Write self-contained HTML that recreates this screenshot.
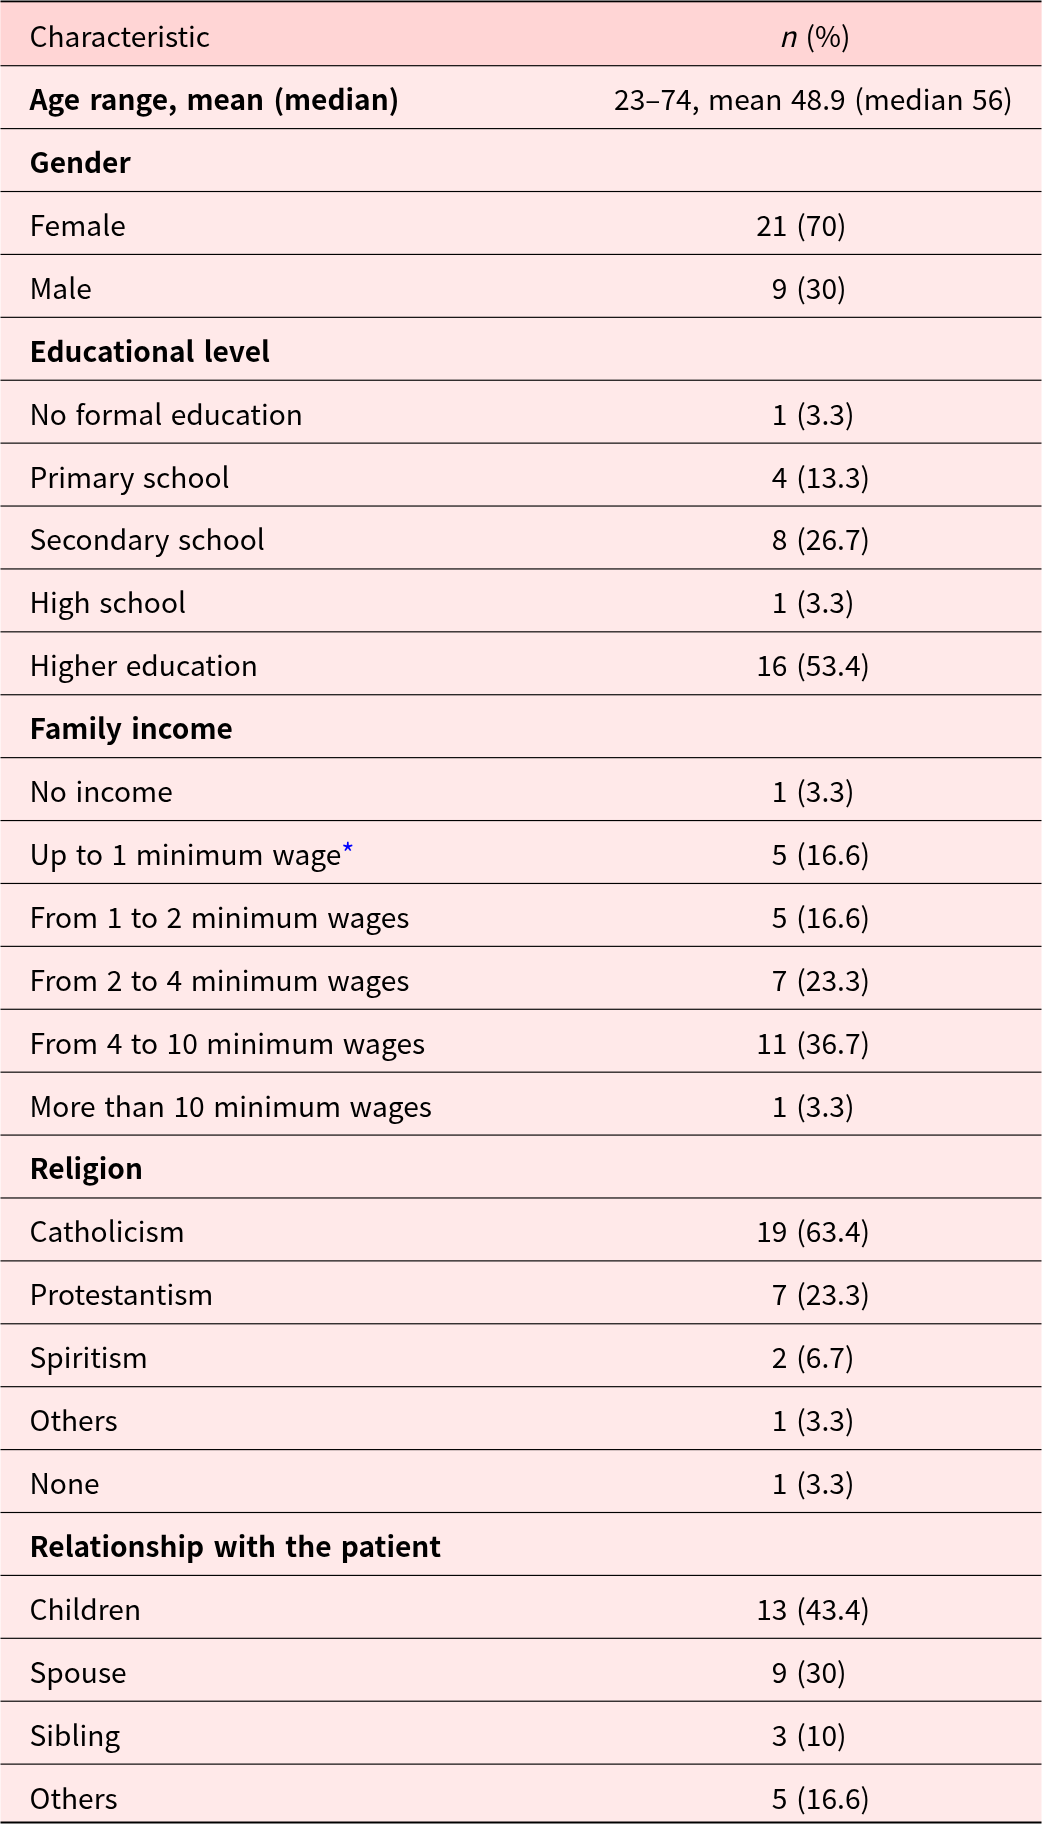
<!DOCTYPE html>
<html lang="en">
<head>
<meta charset="utf-8">
<title>Table 1</title>
<style>
html,body{margin:0;padding:0;}
body{width:1042px;height:1824px;background:#ffe9e9;overflow:hidden;position:relative;
 font-family:"Noto Sans CJK SC","Noto Sans CJK JP","Liberation Sans",sans-serif;font-size:28.17px;color:#000;word-spacing:2.2px;}
.bg{position:absolute;left:0;top:0;display:block;}
.t{position:absolute;left:0;top:0;width:1042px;height:1824px;will-change:transform;}
.row{position:absolute;left:0;width:1042px;height:62px;}
.c1{position:absolute;left:29.5px;top:0;height:62px;line-height:62px;white-space:nowrap;}
.c2{position:absolute;left:584px;width:458px;top:0;height:62px;line-height:62px;white-space:nowrap;}
.c2.ctr{text-align:center;}
.n{position:absolute;right:254.6px;}
.p{position:absolute;left:212.3px;}
b{font-weight:700;font-size:28.1px;word-spacing:2.97px;}
i{font-style:italic;}
.ast{color:#00f;position:relative;top:-1px;left:1.1px;}
.c2.ctr{word-spacing:2.25px;padding-left:1px;box-sizing:border-box;}
.hd .c2.ctr{word-spacing:3.05px;padding-left:3.4px;box-sizing:border-box;}

</style>
</head>
<body>
<svg class="bg" width="1042" height="1824" viewBox="0 0 1042 1824">
<rect x="0" y="0" width="1042" height="1824" fill="#ffffff"/>
<rect x="0.5" y="1" width="1041" height="1822" fill="#ffe9e9"/>
<rect x="0.5" y="1" width="1041" height="64.70" fill="#ffd5d5"/>
<rect x="0.5" y="0.5" width="1041" height="1.80" fill="#000000"/>
<rect x="0.5" y="65.13" width="1041" height="1.15" fill="#000000"/>
<rect x="0.5" y="128.03" width="1041" height="1.15" fill="#000000"/>
<rect x="0.5" y="190.94" width="1041" height="1.15" fill="#000000"/>
<rect x="0.5" y="253.84" width="1041" height="1.15" fill="#000000"/>
<rect x="0.5" y="316.75" width="1041" height="1.15" fill="#000000"/>
<rect x="0.5" y="379.65" width="1041" height="1.15" fill="#000000"/>
<rect x="0.5" y="442.55" width="1041" height="1.15" fill="#000000"/>
<rect x="0.5" y="505.46" width="1041" height="1.15" fill="#000000"/>
<rect x="0.5" y="568.36" width="1041" height="1.15" fill="#000000"/>
<rect x="0.5" y="631.26" width="1041" height="1.15" fill="#000000"/>
<rect x="0.5" y="694.17" width="1041" height="1.15" fill="#000000"/>
<rect x="0.5" y="757.07" width="1041" height="1.15" fill="#000000"/>
<rect x="0.5" y="819.98" width="1041" height="1.15" fill="#000000"/>
<rect x="0.5" y="882.88" width="1041" height="1.15" fill="#000000"/>
<rect x="0.5" y="945.78" width="1041" height="1.15" fill="#000000"/>
<rect x="0.5" y="1008.69" width="1041" height="1.15" fill="#000000"/>
<rect x="0.5" y="1071.59" width="1041" height="1.15" fill="#000000"/>
<rect x="0.5" y="1134.50" width="1041" height="1.15" fill="#000000"/>
<rect x="0.5" y="1197.40" width="1041" height="1.15" fill="#000000"/>
<rect x="0.5" y="1260.31" width="1041" height="1.15" fill="#000000"/>
<rect x="0.5" y="1323.21" width="1041" height="1.15" fill="#000000"/>
<rect x="0.5" y="1386.11" width="1041" height="1.15" fill="#000000"/>
<rect x="0.5" y="1449.02" width="1041" height="1.15" fill="#000000"/>
<rect x="0.5" y="1511.92" width="1041" height="1.15" fill="#000000"/>
<rect x="0.5" y="1574.83" width="1041" height="1.15" fill="#000000"/>
<rect x="0.5" y="1637.73" width="1041" height="1.15" fill="#000000"/>
<rect x="0.5" y="1700.63" width="1041" height="1.15" fill="#000000"/>
<rect x="0.5" y="1763.54" width="1041" height="1.15" fill="#000000"/>
<rect x="0.5" y="1821.5" width="1041" height="2.00" fill="#000000"/>
</svg>
<div class="t" role="table" aria-label="Participant characteristics">
<div class="row hd" role="row" style="top:4px"><div class="c1" role="cell">Characteristic</div><div class="c2 ctr" role="cell"><i>n</i> (%)</div></div>
<div class="row" role="row" style="top:67px"><div class="c1" role="cell"><b>Age range, mean (median)</b></div><div class="c2 ctr" role="cell">23–74, mean 48.9 (median 56)</div></div>
<div class="row" role="row" style="top:130px"><div class="c1" role="cell"><b>Gender</b></div><div class="c2" role="cell"></div></div>
<div class="row" role="row" style="top:193px"><div class="c1" role="cell">Female</div><div class="c2" role="cell"><span class="n">21</span> <span class="p">(70)</span></div></div>
<div class="row" role="row" style="top:256px"><div class="c1" role="cell">Male</div><div class="c2" role="cell"><span class="n">9</span> <span class="p">(30)</span></div></div>
<div class="row" role="row" style="top:319px"><div class="c1" role="cell"><b>Educational level</b></div><div class="c2" role="cell"></div></div>
<div class="row" role="row" style="top:382px"><div class="c1" role="cell">No formal education</div><div class="c2" role="cell"><span class="n">1</span> <span class="p">(3.3)</span></div></div>
<div class="row" role="row" style="top:445px"><div class="c1" role="cell">Primary school</div><div class="c2" role="cell"><span class="n">4</span> <span class="p">(13.3)</span></div></div>
<div class="row" role="row" style="top:507px"><div class="c1" role="cell">Secondary school</div><div class="c2" role="cell"><span class="n">8</span> <span class="p">(26.7)</span></div></div>
<div class="row" role="row" style="top:570px"><div class="c1" role="cell">High school</div><div class="c2" role="cell"><span class="n">1</span> <span class="p">(3.3)</span></div></div>
<div class="row" role="row" style="top:633px"><div class="c1" role="cell">Higher education</div><div class="c2" role="cell"><span class="n">16</span> <span class="p">(53.4)</span></div></div>
<div class="row" role="row" style="top:696px"><div class="c1" role="cell"><b>Family income</b></div><div class="c2" role="cell"></div></div>
<div class="row" role="row" style="top:759px"><div class="c1" role="cell">No income</div><div class="c2" role="cell"><span class="n">1</span> <span class="p">(3.3)</span></div></div>
<div class="row" role="row" style="top:822px"><div class="c1" role="cell">Up to 1 minimum wage<span class="ast">*</span></div><div class="c2" role="cell"><span class="n">5</span> <span class="p">(16.6)</span></div></div>
<div class="row" role="row" style="top:885px"><div class="c1" role="cell">From 1 to 2 minimum wages</div><div class="c2" role="cell"><span class="n">5</span> <span class="p">(16.6)</span></div></div>
<div class="row" role="row" style="top:948px"><div class="c1" role="cell">From 2 to 4 minimum wages</div><div class="c2" role="cell"><span class="n">7</span> <span class="p">(23.3)</span></div></div>
<div class="row" role="row" style="top:1011px"><div class="c1" role="cell">From 4 to 10 minimum wages</div><div class="c2" role="cell"><span class="n">11</span> <span class="p">(36.7)</span></div></div>
<div class="row" role="row" style="top:1074px"><div class="c1" role="cell">More than 10 minimum wages</div><div class="c2" role="cell"><span class="n">1</span> <span class="p">(3.3)</span></div></div>
<div class="row" role="row" style="top:1136px"><div class="c1" role="cell"><b>Religion</b></div><div class="c2" role="cell"></div></div>
<div class="row" role="row" style="top:1199px"><div class="c1" role="cell">Catholicism</div><div class="c2" role="cell"><span class="n">19</span> <span class="p">(63.4)</span></div></div>
<div class="row" role="row" style="top:1262px"><div class="c1" role="cell">Protestantism</div><div class="c2" role="cell"><span class="n">7</span> <span class="p">(23.3)</span></div></div>
<div class="row" role="row" style="top:1325px"><div class="c1" role="cell">Spiritism</div><div class="c2" role="cell"><span class="n">2</span> <span class="p">(6.7)</span></div></div>
<div class="row" role="row" style="top:1388px"><div class="c1" role="cell">Others</div><div class="c2" role="cell"><span class="n">1</span> <span class="p">(3.3)</span></div></div>
<div class="row" role="row" style="top:1451px"><div class="c1" role="cell">None</div><div class="c2" role="cell"><span class="n">1</span> <span class="p">(3.3)</span></div></div>
<div class="row" role="row" style="top:1514px"><div class="c1" role="cell"><b>Relationship with the patient</b></div><div class="c2" role="cell"></div></div>
<div class="row" role="row" style="top:1577px"><div class="c1" role="cell">Children</div><div class="c2" role="cell"><span class="n">13</span> <span class="p">(43.4)</span></div></div>
<div class="row" role="row" style="top:1640px"><div class="c1" role="cell">Spouse</div><div class="c2" role="cell"><span class="n">9</span> <span class="p">(30)</span></div></div>
<div class="row" role="row" style="top:1703px"><div class="c1" role="cell">Sibling</div><div class="c2" role="cell"><span class="n">3</span> <span class="p">(10)</span></div></div>
<div class="row" role="row" style="top:1766px"><div class="c1" role="cell">Others</div><div class="c2" role="cell"><span class="n">5</span> <span class="p">(16.6)</span></div></div>
</div>
</body>
</html>
